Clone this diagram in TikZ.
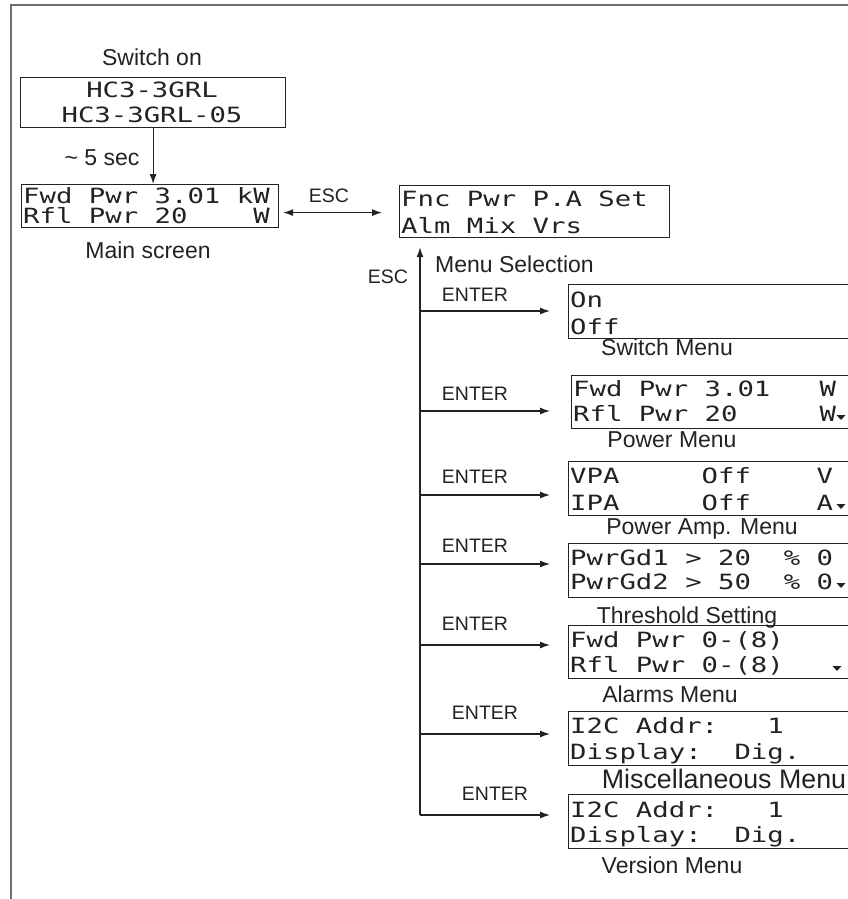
\documentclass[tikz,border=0pt]{standalone}
\usepackage{fontspec}
\setmainfont{Liberation Sans}
\newfontfamily\lcdfont[FakeStretch=1.3]{DejaVu Sans Mono}
\usetikzlibrary{arrows.meta}
\definecolor{ink}{HTML}{222222}
\definecolor{framec}{HTML}{707070}
\newcommand\dtri[2]{\fill[ink] (#1-4.5,#2-6) -- (#1+4.5,#2-6) -- (#1,#2-1) -- cycle;}
\begin{document}
\begin{tikzpicture}[x=1pt,y=-1pt,
  lbl/.style={font=\fontsize{23}{27}\selectfont, text=ink, inner sep=0pt, anchor=base},
  key/.style={font=\fontsize{19.5}{23}\selectfont, text=ink, inner sep=0pt, anchor=base},
  lcdbox/.style={draw=ink, line width=1.2pt, anchor=north west, inner sep=0pt, minimum height=54, minimum width=320},
  lcd/.style={font=\lcdfont\fontsize{21}{25}\selectfont, text=ink, inner sep=0pt, anchor=base west},
  arr/.style={draw=ink, line width=1.2pt, -{Latex[length=10pt,width=7pt]}},
  dbl/.style={draw=ink, line width=1.2pt, {Latex[length=10pt,width=7pt]}-{Latex[length=10pt,width=7pt]}},
]
\path[use as bounding box] (0,0) rectangle (848,899);
\clip (0,0) rectangle (848,899);
\draw[framec, line width=2pt] (11,905) -- (11,5) -- (860,5);

% left column
\node[lbl] (swon) at (152,66) {Switch on};
\node[lcdbox, minimum width=265, minimum height=50] (boot) at (20,77) {};
\node[lcd, anchor=base] (boot1) at (152,97) {HC3-3GRL};
\node[lcd, anchor=base] (boot2) at (152,122) {HC3-3GRL-05};
\node[lbl] (tsec) at (102,165) {\textasciitilde{} 5 sec};
\node[lcdbox, minimum width=257, minimum height=43] (main) at (21,184) {};
\node[lcd] (main1) at (23,203) {Fwd Pwr 3.01 kW};
\node[lcd] (main2) at (23,223) {Rfl Pwr 20~~~~W};
\node[lbl] (mains) at (148,258) {Main screen};
\draw[arr] (boot.south) -- (boot.south |- main.north);

% menu selection
\node[lcdbox, minimum width=270, minimum height=52] (fnc) at (399,185) {};
\node[lcd] (fnc1) at (401,206) {Fnc Pwr P.A Set};
\node[lcd] (fnc2) at (401,233) {Alm Mix Vrs};
\node[key] (esc1) at (329,202) {ESC};
\draw[dbl] ([shift={(4,6.5)}]main.east) -- ([shift={(-17,1)}]fnc.west);
\node[key] (esc2) at (388,283) {ESC};
\node[lbl, anchor=base west] (msel) at (435,272) {Menu Selection};

% submenu boxes
\node[lcdbox] (sw) at (568,284) {};
\node[lcd] (sw1) at (570,307) {On};
\node[lcd] (sw2) at (570,334) {Off};
\node[lbl] (swl) at (667,355) {Switch Menu};

\node[lcdbox, minimum height=53] (pw) at (571,375) {};
\node[lcd] (pw1) at (573,396) {Fwd Pwr 3.01~~~W};
\node[lcd] (pw2) at (573,421) {Rfl Pwr 20~~~~~W};
\dtri{841}{421}
\node[lbl] (pwl) at (672,447) {Power Menu};

\node[lcdbox] (pa) at (568,461) {};
\node[lcd] (pa1) at (570,483) {VPA~~~~~Off~~~~V};
\node[lcd] (pa2) at (570,510) {IPA~~~~~Off~~~~A};
\dtri{841}{510}
\node[lbl] (pal) at (702,534) {Power Amp. Menu};

\node[lcdbox] (th) at (568,543) {};
\node[lcd] (th1) at (570,565) {PwrGd1 > 20~~\%~0};
\node[lcd] (th2) at (570,589) {PwrGd2 > 50~~\%~0};
\dtri{841}{589}
\node[lbl] (thl) at (687,623) {Threshold Setting};

\node[lcdbox, minimum height=53] (al) at (568,625) {};
\node[lcd] (al1) at (570,647) {Fwd Pwr 0-(8)};
\node[lcd] (al2) at (570,672) {Rfl Pwr 0-(8)};
\dtri{837}{672}
\node[lbl] (all) at (670,702) {Alarms Menu};

\node[lcdbox] (mi) at (568,711) {};
\node[lcd] (mi1) at (570,733) {I2C Addr:~~~1};
\node[lcd] (mi2) at (570,759) {Display:~~Dig.};
\node[lbl, font=\fontsize{26.8}{30}\selectfont] (mil) at (724,788) {Miscellaneous Menu};

\node[lcdbox] (ve) at (568,794) {};
\node[lcd] (ve1) at (570,817) {I2C Addr:~~~1};
\node[lcd] (ve2) at (570,842) {Display:~~Dig.};
\node[lbl] (vel) at (672,873) {Version Menu};

% spine and branches
\coordinate (corner) at (420,815);
\draw[arr, shorten >=9pt] (corner) -- ([xshift=21]fnc.south west);
\coordinate (b1) at (420,311);
\coordinate (b2) at (420,411);
\coordinate (b3) at (420,495);
\coordinate (b4) at (420,564);
\coordinate (b5) at (420,645);
\coordinate (b6) at (420,734);
\draw[arr, shorten >=18pt] (b1) -- (b1 -| sw.west);
\draw[arr, shorten >=21pt] (b2) -- (b2 -| pw.west);
\draw[arr, shorten >=18pt] (b3) -- (b3 -| pa.west);
\draw[arr, shorten >=18pt] (b4) -- (b4 -| th.west);
\draw[arr, shorten >=18pt] (b5) -- (b5 -| al.west);
\draw[arr, shorten >=18pt] (b6) -- (b6 -| mi.west);
\draw[arr, shorten >=18pt] (corner) -- (corner -| ve.west);

\node[key] (en1) at (475,301) {ENTER};
\node[key] (en2) at (475,400) {ENTER};
\node[key] (en3) at (475,483) {ENTER};
\node[key] (en4) at (475,552) {ENTER};
\node[key] (en5) at (475,630) {ENTER};
\node[key] (en6) at (485,719) {ENTER};
\node[key] (en7) at (495,800) {ENTER};
\end{tikzpicture}
\end{document}
